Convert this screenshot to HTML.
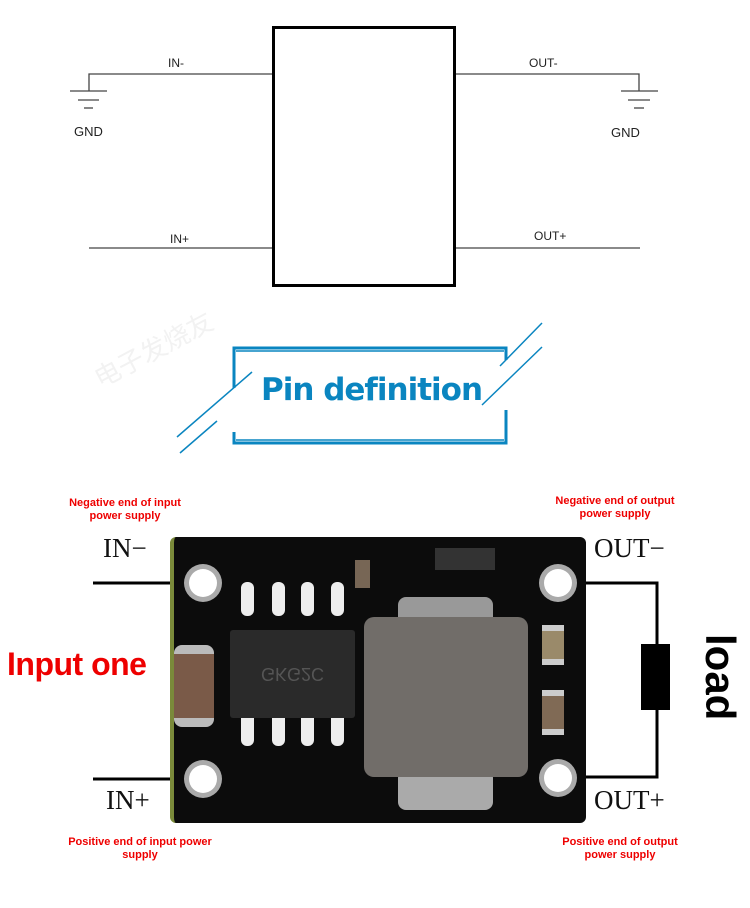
<!DOCTYPE html>
<html><head><meta charset="utf-8"><style>
body{margin:0;width:750px;height:908px;background:#fff;position:relative;overflow:hidden;font-family:"Liberation Sans",sans-serif}
.a{position:absolute}
.sch{font-size:12px;color:#222}
.red{color:#e00;font-size:11px;font-weight:bold;text-align:center;line-height:13px}
.ser{font-family:"Liberation Serif",serif;font-size:27px;color:#111}
.pad{position:absolute;width:28px;height:28px;border-radius:50%;background:#fff;box-shadow:0 0 0 5px #aaa}
.pin{position:absolute;width:13px;height:34px;background:#eee;border-radius:6px}
</style></head><body>
<svg class="a" style="left:0;top:0" width="750" height="908">
<g stroke="#444" stroke-width="1.3" fill="none">
<polyline points="272,74 89,74 89,91"/><line x1="70" y1="91" x2="107" y2="91"/><line x1="78" y1="100" x2="99" y2="100"/><line x1="84" y1="108" x2="93" y2="108"/>
<polyline points="456,74 639,74 639,91"/><line x1="621" y1="91" x2="658" y2="91"/><line x1="628" y1="100" x2="650" y2="100"/><line x1="634" y1="108" x2="644" y2="108"/>
<line x1="89" y1="248" x2="272" y2="248"/><line x1="456" y1="248" x2="640" y2="248"/>
</g>
<rect x="273.5" y="27.5" width="181" height="258" fill="none" stroke="#000" stroke-width="3"/>
<g stroke="#0a85c0" fill="none" stroke-width="1.5">
<polyline points="234,388 234,348 506,348 506,360" stroke-width="3"/>
<line x1="236" y1="351" x2="504" y2="351"/>
<polyline points="234,432 234,443 506,443 506,410" stroke-width="3"/>
<line x1="236" y1="440" x2="504" y2="440"/>
<line x1="177" y1="437" x2="252" y2="372"/><line x1="180" y1="453" x2="217" y2="421"/>
<line x1="500" y1="366" x2="542" y2="323"/><line x1="482" y1="405" x2="542" y2="347"/>
</g>
<g stroke="#000" stroke-width="3" fill="none">
<line x1="93" y1="583" x2="195" y2="583"/><line x1="93" y1="779" x2="195" y2="779"/>
<polyline points="566,583 657,583 657,777 566,777"/>
</g>
<rect x="641" y="644" width="29" height="66" fill="#000"/>
</svg>
<div class="a sch" style="left:168px;top:56px">IN-</div>
<div class="a sch" style="left:529px;top:56px">OUT-</div>
<div class="a sch" style="left:74px;top:124px;font-size:13px">GND</div>
<div class="a sch" style="left:611px;top:125px;font-size:13px">GND</div>
<div class="a sch" style="left:170px;top:232px">IN+</div>
<div class="a sch" style="left:534px;top:229px">OUT+</div>
<div class="a" style="left:88px;top:330px;color:#f2f2f2;font-size:26px;transform:rotate(-28deg)">电子发烧友</div>
<div class="a" style="left:261px;top:372px;color:#0a85c0;font-size:31px;font-weight:bold;font-family:'DejaVu Sans',sans-serif;letter-spacing:-1px">Pin definition</div>
<div class="a red" style="left:50px;top:497px;width:150px">Negative end of input<br>power supply</div>
<div class="a red" style="left:535px;top:495px;width:160px">Negative end of output<br>power supply</div>
<div class="a red" style="left:40px;top:836px;width:200px">Positive end of input power<br>supply</div>
<div class="a red" style="left:540px;top:836px;width:160px">Positive end of output<br>power supply</div>
<div class="a ser" style="left:103px;top:533px">IN−</div>
<div class="a ser" style="left:106px;top:785px">IN+</div>
<div class="a ser" style="left:594px;top:533px">OUT−</div>
<div class="a ser" style="left:594px;top:785px">OUT+</div>
<div class="a" style="left:7px;top:646px;color:#e00;font-size:32px;font-weight:bold;letter-spacing:-0.5px">Input one</div>
<div class="a" style="left:680px;top:650px;font-size:42px;font-weight:bold;transform:rotate(90deg);transform-origin:center;width:80px;text-align:center">load</div>
<!-- PCB -->
<div class="a" style="left:170px;top:537px;width:416px;height:286px;box-sizing:border-box;background:#0c0c0c;border-radius:6px;border-left:4px solid #7a8a3a"></div>
<div class="pad" style="left:189px;top:569px"></div>
<div class="pad" style="left:189px;top:765px"></div>
<div class="pad" style="left:544px;top:569px"></div>
<div class="pad" style="left:544px;top:764px"></div>
<div class="a" style="left:174px;top:645px;width:40px;height:82px;background:#7a5a48;border-radius:8px;border-top:9px solid #bbb;border-bottom:9px solid #bbb;box-sizing:border-box"></div>
<div class="pin" style="left:241px;top:582px"></div><div class="pin" style="left:272px;top:582px"></div><div class="pin" style="left:301px;top:582px"></div><div class="pin" style="left:331px;top:582px"></div>
<div class="pin" style="left:241px;top:712px"></div><div class="pin" style="left:272px;top:712px"></div><div class="pin" style="left:301px;top:712px"></div><div class="pin" style="left:331px;top:712px"></div>
<div class="a" style="left:230px;top:630px;width:125px;height:88px;background:#2a2a2a;border-radius:3px;color:#555;font-size:18px;text-align:center;line-height:88px;transform:scaleY(-1)">GKG2C</div>
<div class="a" style="left:398px;top:597px;width:95px;height:40px;background:#999;border-radius:8px"></div>
<div class="a" style="left:398px;top:770px;width:95px;height:40px;background:#aaa;border-radius:8px"></div>
<div class="a" style="left:364px;top:617px;width:164px;height:160px;background:#716d69;border-radius:10px"></div>
<div class="a" style="left:542px;top:625px;width:22px;height:40px;background:#9a8a6a;border-top:6px solid #ccc;border-bottom:6px solid #ccc;box-sizing:border-box"></div>
<div class="a" style="left:542px;top:690px;width:22px;height:45px;background:#806a55;border-top:6px solid #ccc;border-bottom:6px solid #ccc;box-sizing:border-box"></div>
<div class="a" style="left:435px;top:548px;width:60px;height:22px;background:#333"></div>
<div class="a" style="left:355px;top:560px;width:15px;height:28px;background:#776655"></div>
</body></html>
